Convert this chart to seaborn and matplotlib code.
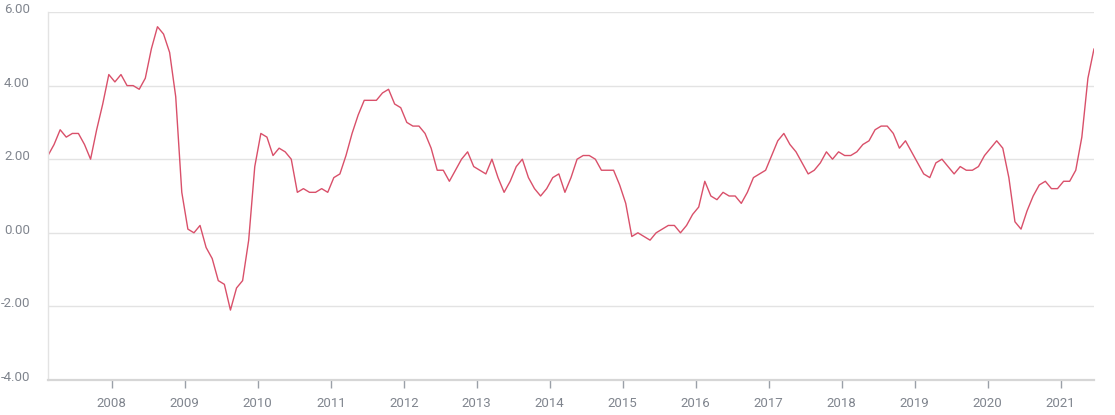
import matplotlib
matplotlib.use("Agg")
import matplotlib.pyplot as plt
import matplotlib.transforms as mtransforms
import seaborn as sns
import numpy as np
import pandas as pd

# Monthly values, Jan 2007 .. May 2021
v2007 = [2.1, 2.4, 2.8, 2.6, 2.7, 2.7, 2.4, 2.0, 2.8, 3.5, 4.3, 4.1]
v2008 = [4.3, 4.0, 4.0, 3.9, 4.2, 5.0, 5.6, 5.4, 4.9, 3.7, 1.1, 0.1]
v2009 = [0.0, 0.2, -0.4, -0.7, -1.3, -1.4, -2.1, -1.5, -1.3, -0.2, 1.8, 2.7]
v2010 = [2.6, 2.1, 2.3, 2.2, 2.0, 1.1, 1.2, 1.1, 1.1, 1.2, 1.1, 1.5]
v2011 = [1.6, 2.1, 2.7, 3.2, 3.6, 3.6, 3.6, 3.8, 3.9, 3.5, 3.4, 3.0]
v2012 = [2.9, 2.9, 2.7, 2.3, 1.7, 1.7, 1.4, 1.7, 2.0, 2.2, 1.8, 1.7]
v2013 = [1.6, 2.0, 1.5, 1.1, 1.4, 1.8, 2.0, 1.5, 1.2, 1.0, 1.2, 1.5]
v2014 = [1.6, 1.1, 1.5, 2.0, 2.1, 2.1, 2.0, 1.7, 1.7, 1.7, 1.3, 0.8]
v2015 = [-0.1, 0.0, -0.1, -0.2, 0.0, 0.1, 0.2, 0.2, 0.0, 0.2, 0.5, 0.7]
v2016 = [1.4, 1.0, 0.9, 1.1, 1.0, 1.0, 0.8, 1.1, 1.5, 1.6, 1.7, 2.1]
v2017 = [2.5, 2.7, 2.4, 2.2, 1.9, 1.6, 1.7, 1.9, 2.2, 2.0, 2.2, 2.1]
v2018 = [2.1, 2.2, 2.4, 2.5, 2.8, 2.9, 2.9, 2.7, 2.3, 2.5, 2.2, 1.9]
v2019 = [1.6, 1.5, 1.9, 2.0, 1.8, 1.6, 1.8, 1.7, 1.7, 1.8, 2.1, 2.3]
v2020 = [2.5, 2.3, 1.5, 0.3, 0.1, 0.6, 1.0, 1.3, 1.4, 1.2, 1.2, 1.4]
v2021 = [1.4, 1.7, 2.6, 4.2, 5.0]

values = (v2007 + v2008 + v2009 + v2010 + v2011 + v2012 + v2013 + v2014 +
          v2015 + v2016 + v2017 + v2018 + v2019 + v2020 + v2021)
year_labels = ["2008", "2009", "2010", "2011", "2012", "2013", "2014",
               "2015", "2016", "2017", "2018", "2019", "2020", "2021"]
y_ticks = [-4, -2, 0, 2, 4, 6]

df = pd.DataFrame({"idx": np.arange(len(values)), "value": values})

sns.set_theme(style="white")
plt.rcParams["font.family"] = ["Roboto", "DejaVu Sans"]

fig = plt.figure(figsize=(11.15, 4.15), dpi=100)
ax = fig.add_axes([48 / 1115, 1 - 380 / 415, (1094 - 48) / 1115, 368 / 415])

sns.lineplot(data=df, x="idx", y="value", ax=ax, color="#d9506a", linewidth=1.0)

ax.set_xlim(0, len(values) - 1)
ax.set_ylim(-4, 6)
ax.set_yticks(y_ticks)
ax.set_yticklabels([f"{t:.2f}" for t in y_ticks])
xt = [10.5 + 12 * k for k in range(len(year_labels))]
ax.set_xticks(xt)
ax.set_xticklabels(year_labels)

ax.grid(axis="y", color="#e3e3e3", linewidth=1.0)
ax.grid(axis="x", visible=False)
ax.set_axisbelow(True)

for s in ["top", "right"]:
    ax.spines[s].set_visible(False)
ax.spines["left"].set_color("#e3e3e3")
ax.spines["left"].set_linewidth(1.0)
ax.spines["bottom"].set_color("#d6d6d6")
ax.spines["bottom"].set_linewidth(1.6)

ax.tick_params(axis="x", bottom=True, length=6, width=1, color="#9aa0a8",
               labelsize=9.5, labelcolor="#80858e", pad=6, direction="out")
ax.tick_params(axis="y", left=False, length=0, labelsize=9.5,
               labelcolor="#80858e", pad=13)
shift = mtransforms.ScaledTranslation(0, 2.5 / 100, fig.dpi_scale_trans)
for lab in ax.get_yticklabels():
    lab.set_verticalalignment("center")
    lab.set_transform(lab.get_transform() + shift)

ax.set_xlabel("")
ax.set_ylabel("")

fig.savefig("out.png", dpi=100)
